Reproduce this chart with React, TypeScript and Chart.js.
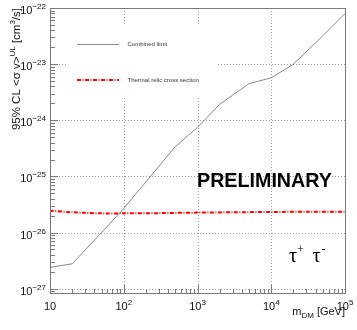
import React, { useEffect, useRef } from "react";
import { Chart, registerables } from "chart.js";

Chart.register(...registerables);

// ---- data ----
const limitMasses = [10, 20, 50, 100, 200, 500, 1000, 2000, 5000, 10000, 20000, 50000, 100000];
const combinedLimit = [2.4e-27, 2.78e-27, 1.0e-26, 2.7e-26, 8.0e-26, 3.4e-25, 7.5e-25, 1.93e-24, 4.5e-24, 5.7e-24, 1.0e-23, 3.2e-23, 8.0e-23];
const relicMasses = [10, 20, 30, 50, 100, 300, 1000, 3000, 10000, 30000, 100000];
const thermalRelic = [2.45e-26, 2.3e-26, 2.25e-26, 2.2e-26, 2.2e-26, 2.22e-26, 2.27e-26, 2.3e-26, 2.33e-26, 2.35e-26, 2.35e-26];
const xDecades = [1, 2, 3, 4, 5];
const yDecades = [-22, -23, -24, -25, -26, -27];
const legendLabels = ["Combined limit", "Thermal relic cross section"];

const FONT = '"Liberation Sans", Arial, sans-serif';
const AXIS_COLOR = "#7a7a7a";
const GRID_COLOR = "#9a9a9a";

const overlay = {
  id: "rootStyle",
  beforeDatasetsDraw(chart: any) {
    const ctx = chart.ctx;
    const { left, right, top, bottom } = chart.chartArea;
    const xs = chart.scales.x;
    const ys = chart.scales.y;
    ctx.save();
    ctx.strokeStyle = GRID_COLOR;
    ctx.lineWidth = 1;
    ctx.setLineDash([1, 2]);
    xDecades.forEach((e) => {
      const px = Math.round(xs.getPixelForValue(Math.pow(10, e))) + 0.5;
      if (px <= left + 1 || px >= right - 1) return;
      ctx.beginPath();
      ctx.moveTo(px, top);
      ctx.lineTo(px, bottom);
      ctx.stroke();
    });
    yDecades.forEach((e) => {
      const py = Math.round(ys.getPixelForValue(Math.pow(10, e))) + 0.5;
      if (py <= top + 1 || py >= bottom - 1) return;
      ctx.beginPath();
      ctx.moveTo(left, py);
      ctx.lineTo(right, py);
      ctx.stroke();
    });
    ctx.setLineDash([]);
    // legend box (white, no border) hides the grid
    ctx.fillStyle = "#ffffff";
    ctx.fillRect(68, 25, 149, 72);
    ctx.restore();
  },
  afterDatasetsDraw(chart: any) {
    const ctx = chart.ctx;
    const { left, right, top, bottom } = chart.chartArea;
    const xs = chart.scales.x;
    const ys = chart.scales.y;
    ctx.save();
    // frame
    ctx.strokeStyle = AXIS_COLOR;
    ctx.lineWidth = 1;
    ctx.strokeRect(Math.round(left) + 0.5, Math.round(top) + 0.5, Math.round(right - left), Math.round(bottom - top));

    // y ticks
    ctx.beginPath();
    for (let e = -28; e <= -22; e++) {
      for (let k = 1; k <= 9; k++) {
        const v = k * Math.pow(10, e);
        if (v < ys.min * 0.999 || v > ys.max * 1.001) continue;
        const py = Math.round(ys.getPixelForValue(v)) + 0.5;
        const len = k === 1 ? 8 : 5;
        ctx.moveTo(left, py);
        ctx.lineTo(left + len, py);
      }
    }
    // x ticks
    for (let e = 1; e <= 5; e++) {
      for (let k = 1; k <= 9; k++) {
        const v = k * Math.pow(10, e);
        if (v < xs.min * 0.999 || v > xs.max * 1.001) continue;
        const px = Math.round(xs.getPixelForValue(v)) + 0.5;
        const len = k === 1 ? 8 : 4;
        ctx.moveTo(px, bottom);
        ctx.lineTo(px, bottom - len);
      }
    }
    ctx.stroke();

    // y tick labels
    ctx.fillStyle = "#111";
    ctx.textBaseline = "alphabetic";
    yDecades.forEach((e) => {
      const py = ys.getPixelForValue(Math.pow(10, e));
      const expo = "\u2212" + String(-e);
      ctx.font = `8px ${FONT}`;
      const we = ctx.measureText(expo).width;
      ctx.font = `11px ${FONT}`;
      const wb = ctx.measureText("10").width;
      const xEnd = 46;
      ctx.textAlign = "left";
      ctx.fillText("10", xEnd - we - wb, py + 6);
      ctx.font = `8px ${FONT}`;
      ctx.fillText(expo, xEnd - we, py + 1);
    });

    // x tick labels
    xDecades.forEach((e) => {
      const px = xs.getPixelForValue(Math.pow(10, e));
      ctx.font = `11px ${FONT}`;
      const wb = ctx.measureText("10").width;
      ctx.textAlign = "left";
      if (e === 1) {
        ctx.fillText("10", px - wb / 2, 310);
        return;
      }
      ctx.font = `8px ${FONT}`;
      const we = ctx.measureText(String(e)).width;
      const x0 = px - (wb + we) / 2;
      ctx.font = `11px ${FONT}`;
      ctx.fillText("10", x0, 310);
      ctx.font = `8px ${FONT}`;
      ctx.fillText(String(e), x0 + wb, 304.5);
    });

    // x title: m_DM [GeV]
    {
      const parts = [
        { t: "m", f: 11, dy: 0 },
        { t: "DM", f: 8, dy: 3 },
        { t: " [GeV]", f: 11, dy: 0 },
      ];
      let total = 0;
      parts.forEach((p) => {
        ctx.font = `${p.f}px ${FONT}`;
        total += ctx.measureText(p.t).width;
      });
      let x = 345 - total;
      ctx.textAlign = "left";
      parts.forEach((p) => {
        ctx.font = `${p.f}px ${FONT}`;
        ctx.fillText(p.t, x, 315 + p.dy);
        x += ctx.measureText(p.t).width;
      });
    }

    // y title (rotated): 95% CL <σ v>^UL [cm^3/s]
    {
      const parts = [
        { t: "95% CL <\u03c3 v>", f: 11.5, dy: 0 },
        { t: "UL", f: 8, dy: -5 },
        { t: " [cm", f: 11.5, dy: 0 },
        { t: "3", f: 8, dy: -5 },
        { t: "/s]", f: 11.5, dy: 0 },
      ];
      let total = 0;
      parts.forEach((p) => {
        ctx.font = `${p.f}px ${FONT}`;
        total += ctx.measureText(p.t).width;
      });
      ctx.save();
      ctx.translate(19.5, 8);
      ctx.rotate(-Math.PI / 2);
      ctx.textAlign = "left";
      let x = -total;
      parts.forEach((p) => {
        ctx.font = `${p.f}px ${FONT}`;
        ctx.fillText(p.t, x, p.dy);
        x += ctx.measureText(p.t).width;
      });
      ctx.restore();
    }

    // legend
    ctx.strokeStyle = "#888";
    ctx.lineWidth = 1;
    ctx.beginPath();
    ctx.moveTo(77, 44.5);
    ctx.lineTo(119, 44.5);
    ctx.stroke();
    ctx.strokeStyle = "#ff0000";
    ctx.lineWidth = 2;
    ctx.setLineDash([4, 1.5, 1, 1.5]);
    ctx.beginPath();
    ctx.moveTo(77, 80);
    ctx.lineTo(119, 80);
    ctx.stroke();
    ctx.setLineDash([]);
    ctx.fillStyle = "#333";
    ctx.font = `6px ${FONT}`;
    ctx.textAlign = "left";
    ctx.textBaseline = "middle";
    ctx.fillText(legendLabels[0], 127.5, 44.5);
    ctx.fillText(legendLabels[1], 127.5, 80);

    // PRELIMINARY
    ctx.textBaseline = "alphabetic";
    ctx.fillStyle = "#000";
    ctx.font = `bold 19.7px ${FONT}`;
    ctx.fillText("PRELIMINARY", 197, 187);

    // tau+ tau-
    const SERIF = '"Liberation Serif", "DejaVu Serif", serif';
    ctx.font = `20px ${SERIF}`;
    ctx.fillText("\u03c4", 289, 261.5);
    ctx.font = `12px ${SERIF}`;
    ctx.fillText("+", 297, 253);
    ctx.font = `20px ${SERIF}`;
    ctx.fillText("\u03c4", 312.5, 261.5);
    ctx.font = `12px ${SERIF}`;
    ctx.fillText("-", 321.5, 253);
    ctx.restore();
  },
};

export default function App() {
  const ref = useRef<HTMLCanvasElement | null>(null);
  useEffect(() => {
    document.body.style.margin = "0";
    const canvas = ref.current;
    if (!canvas) return;
    const chart = new Chart(canvas, {
      type: "line",
      data: {
        datasets: [
          {
            label: legendLabels[0],
            data: limitMasses.map((m, i) => ({ x: m, y: combinedLimit[i] })),
            borderColor: "#888888",
            borderWidth: 1,
            pointRadius: 0,
            tension: 0,
          },
          {
            label: legendLabels[1],
            data: relicMasses.map((m, i) => ({ x: m, y: thermalRelic[i] })),
            borderColor: "#ff0000",
            borderWidth: 2,
            borderDash: [4, 1.5, 1, 1.5],
            pointRadius: 0,
            tension: 0.3,
          },
        ],
      },
      options: {
        responsive: false,
        animation: false,
        events: [],
        layout: { padding: { left: 50, top: 8, right: 12, bottom: 37 } },
        plugins: { legend: { display: false }, tooltip: { enabled: false } },
        scales: {
          x: { type: "logarithmic", min: 10, max: 1e5, display: false },
          y: { type: "logarithmic", min: Math.pow(10, -27.076), max: 1e-22, display: false },
        },
      },
      plugins: [overlay],
    });
    return () => chart.destroy();
  }, []);
  return (
    <div style={{ width: 357, height: 330, background: "#fff" }}>
      <canvas ref={ref} width={357} height={330} style={{ display: "block" }} />
    </div>
  );
}
